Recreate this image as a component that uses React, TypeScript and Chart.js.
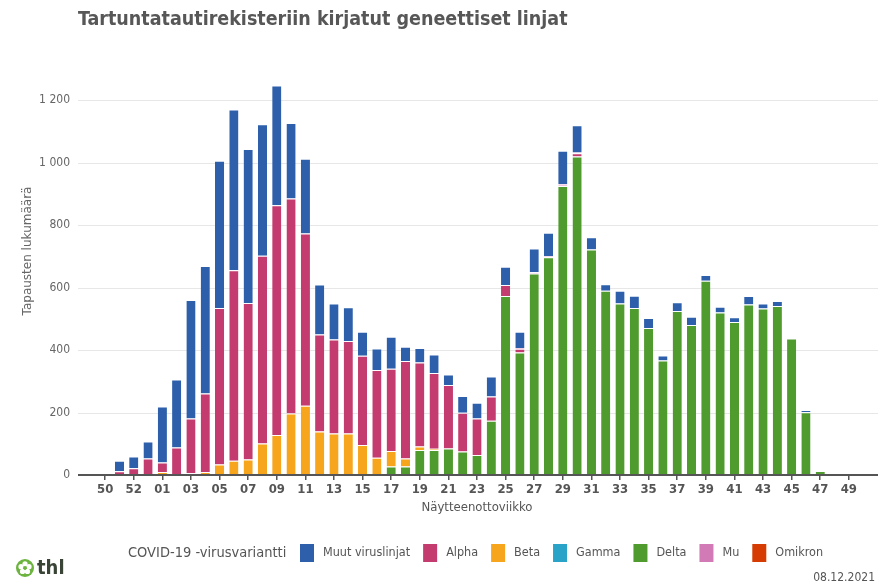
import React, { useEffect, useRef } from 'react';
import { Chart, registerables } from 'chart.js';

Chart.register(...registerables);

const weeks = ['50','51','52','53','01','02','03','04','05','06','07','08','09','10','11','12','13','14','15','16','17','18','19','20','21','22','23','24','25','26','27','28','29','30','31','32','33','34','35','36','37','38','39','40','41','42','43','44','45','46','47','48','49'];

const muut = [0,34,37,54,179,218,379,408,471,514, 493,421,383,242,240,160,115,108,77,69, 103,46,47,59,34,54,50,64,59,52, 76,75,106,87,39,21,41,39,32,16, 28,27,18,19,15,27,16,16,0,7, 0,0,0];
const alpha = [0,12,22,53,30,85,175,251,501,610, 501,601,736,688,551,311,301,296,286,281, 263,312,269,243,203,124,117,77,35,12, 0,0,2,10,0,0,0,0,0,0, 0,0,0,0,0,0,0,0,0,0, 0,0,0];
const beta = [0,0,0,0,10,3,6,10,34,46, 50,101,128,197,222,139,133,133,96,55, 50,26,11,4,0,0,0,0,0,0, 0,0,0,0,0,0,0,0,0,0, 0,0,0,0,0,0,0,0,0,0, 0,0,0];
const gamma = [0,0,0,0,0,0,0,0,0,0, 0,0,0,0,0,0,0,0,0,0, 0,0,0,0,0,0,0,0,0,0, 0,0,0,0,0,0,0,0,0,0, 0,0,0,0,0,0,0,0,0,0, 0,0,0];
const delta = [0,0,0,0,0,0,0,0,0,0, 0,0,0,0,0,0,0,0,0,0, 27,27,80,80,85,75,64,174,573,392, 645,697,925,1020,722,590,549,535,471,367, 525,480,622,520,490,546,533,541,437,201, 13,0,0];
const mu = [0,0,0,0,0,0,0,0,0,0, 0,0,0,0,0,0,0,0,0,0, 0,0,0,0,0,0,0,0,0,3, 4,4,5,3,0,0,0,0,0,0, 0,0,0,0,0,0,0,0,0,0, 0,0,0];
const omikron = [0,0,0,0,0,0,0,0,0,0, 0,0,0,0,0,0,0,0,0,0, 0,0,0,0,0,0,0,0,0,0, 0,0,0,0,0,0,0,0,0,0, 0,0,0,0,0,0,0,0,0,0, 0,0,0];

const yTickValues = [0, 200, 400, 600, 800, 1000, 1200];

const titleText = 'Tartuntatautirekisteriin kirjatut geneettiset linjat';
const yTitleText = 'Tapausten lukumäärä';
const xTitleText = 'Näytteenottoviikko';
const legendTitle = 'COVID-19 -virusvariantti';
const dateText = '08.12.2021';

const COLORS = {
  muut: '#2d5fab',
  alpha: '#c43b6f',
  beta: '#f6a51d',
  gamma: '#2aa3c8',
  delta: '#509b2e',
  mu: '#d27ab6',
  omikron: '#d63c02',
};

const COND = '"DejaVu Sans Condensed", "DejaVu Sans", sans-serif';

const legendOrder = ['Muut viruslinjat', 'Alpha', 'Beta', 'Gamma', 'Delta', 'Mu', 'Omikron'];

function fmt(v: number): string {
  if (v >= 1000) return Math.floor(v / 1000) + ' ' + String(v % 1000).padStart(3, '0');
  return String(v);
}

const decorPlugin = {
  id: 'decor',
  beforeDatasetsDraw(chart: any) {
    const { ctx, chartArea } = chart;
    const y = chart.scales.y;
    ctx.save();
    ctx.strokeStyle = '#e7e7e7';
    ctx.lineWidth = 1;
    for (const v of yTickValues) {
      if (v === 0) continue;
      const py = Math.round(y.getPixelForValue(v)) + 0.5;
      ctx.beginPath();
      ctx.moveTo(chartArea.left - 20, py);
      ctx.lineTo(chartArea.right + 22, py);
      ctx.stroke();
    }
    ctx.restore();
  },
  afterDatasetsDraw(chart: any) {
    const { ctx, chartArea } = chart;
    const y = chart.scales.y;
    const py = y.getPixelForValue(0);
    ctx.save();
    ctx.strokeStyle = '#555';
    ctx.lineWidth = 2;
    ctx.beginPath();
    ctx.moveTo(chartArea.left - 20, py);
    ctx.lineTo(chartArea.right + 22, py);
    ctx.stroke();
    ctx.restore();
  },
  afterDraw(chart: any) {
    const { ctx } = chart;
    ctx.save();
    // Title
    ctx.fillStyle = '#575757';
    ctx.font = 'bold 19.5px ' + COND;
    ctx.textAlign = 'left';
    ctx.textBaseline = 'alphabetic';
    ctx.fillText(titleText, 78, 25);

    // Y title
    ctx.save();
    ctx.translate(28, 251);
    ctx.rotate(-Math.PI / 2);
    ctx.font = '12px "DejaVu Sans", sans-serif';
    ctx.fillStyle = '#666';
    ctx.textAlign = 'center';
    ctx.textBaseline = 'middle';
    ctx.fillText(yTitleText, 0, 0);
    ctx.restore();

    // Legend
    const ly = 553;
    ctx.textBaseline = 'middle';
    ctx.fillStyle = '#555';
    ctx.font = '14.5px ' + COND;
    ctx.fillText(legendTitle, 128, ly);
    let x = 300;
    ctx.font = '12.5px ' + COND;
    const dsByLabel: Record<string, any> = {};
    chart.data.datasets.forEach((d: any) => { dsByLabel[d.label] = d; });
    for (const lbl of legendOrder) {
      const ds = dsByLabel[lbl];
      ctx.fillStyle = ds.backgroundColor;
      ctx.fillRect(x, ly - 9, 14, 18);
      x += 14 + 9;
      ctx.fillStyle = '#555';
      ctx.fillText(lbl, x, ly);
      x += ctx.measureText(lbl).width + 13;
    }

    // Date
    ctx.font = '12px ' + COND;
    ctx.textAlign = 'right';
    ctx.fillStyle = '#555';
    ctx.fillText(dateText, 875, 578);

    // THL logo
    const cx = 25, cy = 568;
    ctx.fillStyle = '#6cb33f';
    ctx.beginPath();
    ctx.arc(cx, cy, 9, 0, Math.PI * 2);
    ctx.fill();
    ctx.fillStyle = '#fff';
    for (let i = 0; i < 5; i++) {
      const a = -Math.PI / 2 + (i * 2 * Math.PI) / 5;
      ctx.beginPath();
      ctx.arc(cx + Math.cos(a) * 4.2, cy + Math.sin(a) * 4.2, 2.6, 0, Math.PI * 2);
      ctx.fill();
    }
    ctx.fillStyle = '#6cb33f';
    ctx.beginPath();
    ctx.arc(cx, cy, 1.8, 0, Math.PI * 2);
    ctx.fill();
    ctx.textAlign = 'left';
    ctx.fillStyle = '#3a4436';
    ctx.font = 'bold 20px ' + COND;
    ctx.fillText('thl', 37, 569);
    ctx.restore();
  },
};

export default function App() {
  const ref = useRef<HTMLCanvasElement | null>(null);
  useEffect(() => {
    if (!ref.current) return;
    Chart.defaults.font.family = COND;
    const mk = (label: string, data: number[], color: string) => ({
      label,
      data,
      backgroundColor: color,
      borderColor: '#ffffff',
      borderWidth: { top: 1, left: 0, right: 0, bottom: 0 },
      borderSkipped: 'start',
      categoryPercentage: 1,
      barPercentage: 0.64,
      stack: 's',
    });
    const chart = new Chart(ref.current, {
      type: 'bar',
      data: {
        labels: weeks,
        datasets: [
          mk('Omikron', omikron, COLORS.omikron),
          mk('Delta', delta, COLORS.delta),
          mk('Beta', beta, COLORS.beta),
          mk('Gamma', gamma, COLORS.gamma),
          mk('Alpha', alpha, COLORS.alpha),
          mk('Mu', mu, COLORS.mu),
          mk('Muut viruslinjat', muut, COLORS.muut),
        ] as any,
      },
      options: {
        animation: false,
        responsive: false,
        maintainAspectRatio: false,
        layout: { padding: { left: 0, right: 25, top: 69, bottom: 71 } },
        plugins: {
          legend: { display: false },
          title: { display: false },
          tooltip: { enabled: false },
        },
        scales: {
          x: {
            stacked: true,
            afterFit: (s: any) => { s.height = 40; },
            border: { display: false },
            grid: {
              offset: false,
              drawOnChartArea: false,
              drawTicks: true,
              tickLength: 5,
              lineWidth: 1.5,
              color: (c: any) => (c.index % 2 === 0 ? '#555' : 'rgba(0,0,0,0)'),
            },
            ticks: {
              autoSkip: false,
              maxRotation: 0,
              padding: 2,
              color: '#555',
              font: { size: 13, weight: 'bold', family: COND },
              callback: (_v: any, i: number) => (i % 2 === 0 ? weeks[i] : ''),
            },
            title: {
              display: true,
              text: xTitleText,
              color: '#555',
              font: { size: 13, family: COND },
              padding: { top: 0, bottom: 0 },
            },
          },
          y: {
            stacked: true,
            min: 0,
            max: 1300,
            afterFit: (s: any) => { s.width = 98; },
            border: { display: false },
            grid: { display: false, drawTicks: false },
            afterBuildTicks: (s: any) => { s.ticks = yTickValues.map((v) => ({ value: v })); },
            ticks: {
              padding: 28,
              color: '#666',
              font: { size: 12, family: COND },
              callback: (v: any) => fmt(Number(v)),
            },
          },
        },
      } as any,
      plugins: [decorPlugin],
    });
    return () => chart.destroy();
  }, []);
  return (
    <div style={{ position: 'fixed', left: 0, top: 0, width: 881, height: 586, background: '#fff' }}>
      <canvas ref={ref} width={881} height={586} style={{ display: 'block' }} />
    </div>
  );
}
